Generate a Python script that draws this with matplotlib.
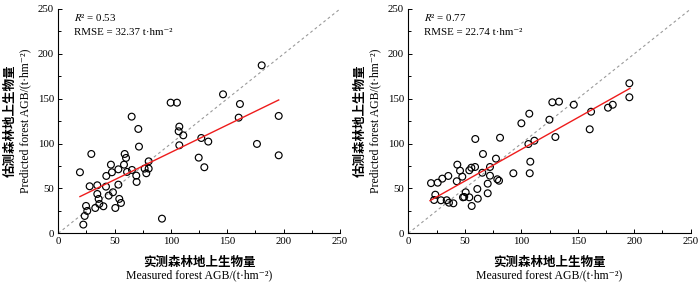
import matplotlib
matplotlib.use("Agg")
import matplotlib.pyplot as plt
import numpy as np

plt.rcParams['font.family'] = ['Liberation Serif', 'DejaVu Serif']
plt.rcParams['mathtext.fontset'] = 'stix'

# Left panel: measured vs predicted
meas_a = [19.2, 29.3, 27.8, 34.6, 34.6, 35.8, 24.6, 25.7, 23.4, 22.2, 32.8, 36.4, 40.0,
          42.3, 42.6, 44.7, 46.7, 47.6, 48.5, 50.6, 53.3, 53.3, 54.1, 55.6, 58.3, 58.9,
          60.1, 61.0, 65.1, 65.4, 69.2, 69.5, 71.0, 71.6, 76.6, 78.1, 80.2, 80.2, 92.0,
          99.7, 105.3, 107.4, 106.8, 107.4, 110.9, 126.9, 124.6, 129.6, 133.1, 146.2,
          160.1, 161.2, 176.3, 180.5, 195.6, 195.6]
pred_a = [68.0, 88.4, 52.4, 53.5, 43.8, 38.3, 30.5, 24.9, 19.3, 9.7, 28.2, 32.7, 30.1,
          52.0, 63.9, 42.0, 76.5, 68.0, 45.7, 28.2, 71.3, 54.2, 38.3, 33.8, 76.5, 88.4,
          84.0, 68.4, 130.0, 70.6, 64.3, 57.2, 116.3, 96.6, 72.1, 66.9, 80.2, 72.1, 16.3,
          145.6, 145.6, 118.9, 113.7, 98.1, 109.2, 106.2, 84.3, 73.6, 102.2, 154.9,
          128.9, 144.1, 99.6, 187.2, 130.8, 86.9]
fit_a_x = [19.2, 195.6]
fit_a_y = [40.9, 148.6]

# Right panel
meas_b = [20.1, 26.0, 30.1, 35.4, 43.4, 45.8, 47.8, 42.9, 54.0, 55.8, 59.1, 59.3, 66.1,
          72.3, 72.3, 77.6, 65.5, 70.3, 70.3, 61.1, 61.5, 56.1, 54.0, 50.8, 48.4, 49.5,
          23.9, 22.8, 28.9, 34.0, 36.0, 39.9, 80.3, 81.2, 78.8, 100.1, 107.1, 106.3,
          111.6, 108.0, 107.5, 93.0, 124.9, 127.5, 133.4, 146.5, 130.2, 195.7, 195.7,
          161.8, 160.6, 176.8, 181.0]
pred_b = [55.9, 56.4, 60.9, 63.9, 76.5, 69.8, 63.1, 58.0, 70.2, 73.1, 73.9, 105.1, 88.4,
          73.9, 64.2, 83.2, 67.5, 55.3, 44.6, 49.4, 38.6, 30.4, 40.1, 45.7, 40.1, 40.5,
          43.0, 37.1, 36.8, 36.8, 34.1, 33.4, 58.6, 106.5, 60.2, 122.6, 133.3, 99.5,
          103.2, 79.8, 66.9, 66.9, 126.6, 146.0, 146.7, 143.3, 107.3, 167.2, 151.6,
          135.5, 115.9, 140.0, 143.3]
fit_b_x = [19.2, 196.3]
fit_b_y = [36.4, 161.6]

r2_labels = ["0.53", "0.77"]
rmse_labels = ["32.37", "22.74"]
ticks = [0, 50, 100, 150, 200, 250]

SERIF = ['Liberation Serif', 'DejaVu Serif']
CJK = ['Noto Sans CJK SC', 'DejaVu Sans']

fig = plt.figure(figsize=(7.0, 2.83), dpi=100)
positions = [[0.0833, 0.1757, 0.4024, 0.7925], [0.5833, 0.1757, 0.4034, 0.7925]]
panels = [(meas_a, pred_a, fit_a_x, fit_a_y), (meas_b, pred_b, fit_b_x, fit_b_y)]

for i, (pos, (mx, py, fx, fy)) in enumerate(zip(positions, panels)):
    ax = fig.add_axes(pos)
    ax.plot([0, 250], [0, 250], ls=(0, (2.5, 2.5)), color='#9a9a9a', lw=0.8, zorder=1)
    ax.scatter(mx, py, s=24, facecolors='none', edgecolors='black', linewidths=0.85, zorder=3)
    ax.plot(fx, fy, color='#ee1c1c', lw=1.0, zorder=4)
    ax.set_xlim(0, 250)
    ax.set_ylim(0, 250)
    ax.set_xticks(ticks)
    ax.set_yticks(ticks)
    ax.set_xticks(np.arange(25, 250, 50), minor=True)
    ax.set_yticks(np.arange(25, 250, 50), minor=True)
    ax.tick_params(which='both', direction='in', labelsize=7.8, width=0.7, pad=3)
    ax.tick_params(which='major', length=3)
    ax.tick_params(which='minor', length=2.5)
    ax.spines['top'].set_visible(False)
    ax.spines['right'].set_visible(False)
    for s in ['left', 'bottom']:
        ax.spines[s].set_linewidth(0.8)
    ax.text(14, 241, r"$R$²" + " = " + r2_labels[i], fontsize=7.8, va='center', ha='left',
            family=SERIF)
    ax.text(14, 224, "RMSE = " + rmse_labels[i] + " t·hm⁻²", fontsize=7.8,
            va='center', ha='left', family=SERIF)

    x0 = pos[0]
    xc = pos[0] + pos[2] / 2
    yc = pos[1] + pos[3] / 2
    fig.text(x0 - 0.0690, yc, "估测森林地上生物量", rotation=90, ha='center', va='center',
             fontsize=9, family=CJK, fontweight='bold')
    fig.text(x0 - 0.0470, yc, "Predicted forest AGB/(t·hm⁻²)", rotation=90,
             ha='center', va='center', fontsize=8.5, family=SERIF)
    fig.text(xc, 1 - 262 / 283, "实测森林地上生物量", ha='center', va='center',
             fontsize=9, family=CJK, fontweight='bold')
    fig.text(xc, 1 - 275 / 283, "Measured forest AGB/(t·hm⁻²)", ha='center',
             va='center', fontsize=8.5, family=SERIF)

fig.savefig("out.png", dpi=100)
